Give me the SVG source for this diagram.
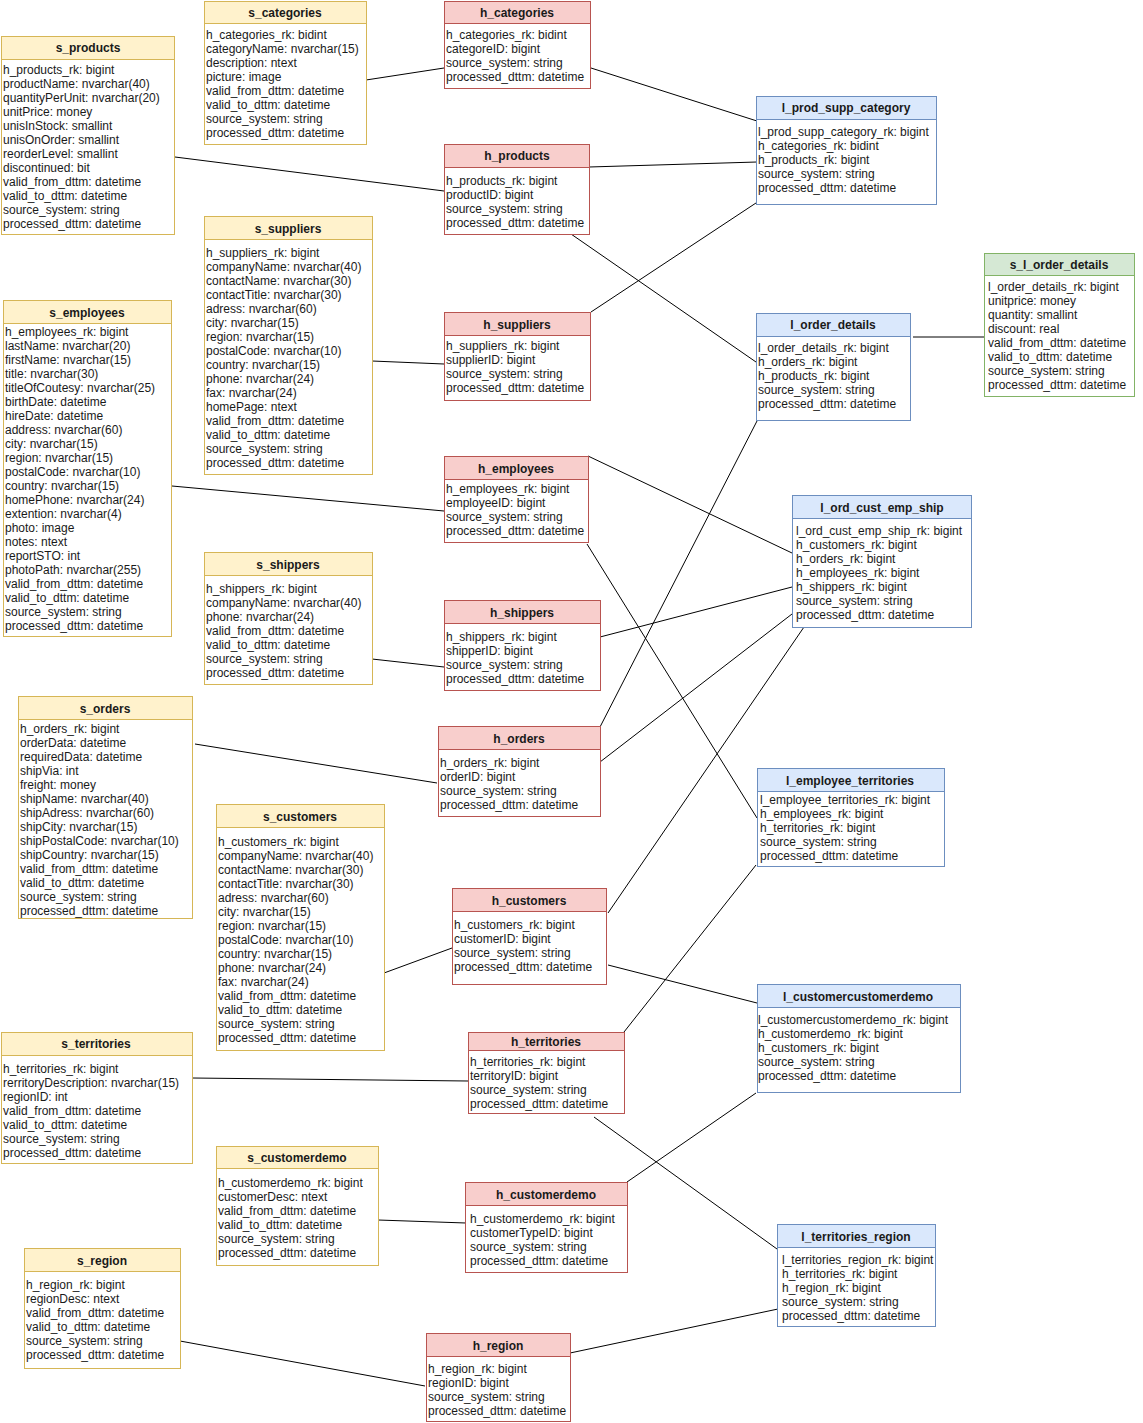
<svg xmlns="http://www.w3.org/2000/svg" width="1143" height="1423" viewBox="0 0 1143 1423">
<style>
text{font-family:"Liberation Sans",Arial,sans-serif;font-size:12px;fill:#1a1a1a}
.t{font-weight:bold;text-anchor:middle}
.b{fill:#ffffff;stroke-width:1}
.s .b,.s .h{stroke:#d6b656}.s .h{fill:#fff2cc}
.hb .b,.hb .h{stroke:#b85450}.hb .h{fill:#f8cecc}
.l .b,.l .h{stroke:#6c8ebf}.l .h{fill:#dae8fc}
.g .b,.g .h{stroke:#82b366}.g .h{fill:#d5e8d4}
.c line{stroke:#000;stroke-width:1}
</style>
<rect width="1143" height="1423" fill="#ffffff"/>
<g class="c" id="connectors">
<line x1="366" y1="80" x2="444" y2="68"/>
<line x1="591" y1="68" x2="757" y2="121"/>
<line x1="175" y1="157" x2="444" y2="191"/>
<line x1="589" y1="167" x2="757" y2="162"/>
<line x1="571" y1="234" x2="756" y2="362"/>
<line x1="591" y1="312" x2="759" y2="201"/>
<line x1="372" y1="361" x2="444" y2="364"/>
<line x1="913" y1="337" x2="986" y2="337"/>
<line x1="172" y1="486" x2="444" y2="511"/>
<line x1="588" y1="456" x2="792" y2="553"/>
<line x1="587" y1="544" x2="757" y2="818"/>
<line x1="372" y1="659" x2="444" y2="667"/>
<line x1="600" y1="637" x2="792" y2="587"/>
<line x1="600" y1="727" x2="757" y2="421"/>
<line x1="195" y1="744" x2="437" y2="783"/>
<line x1="600" y1="762" x2="792" y2="614"/>
<line x1="608" y1="913" x2="804" y2="627"/>
<line x1="384" y1="973" x2="452" y2="948"/>
<line x1="608" y1="965" x2="757" y2="1003"/>
<line x1="624" y1="1032" x2="756" y2="865"/>
<line x1="192" y1="1078" x2="468" y2="1081"/>
<line x1="594" y1="1117" x2="777" y2="1249"/>
<line x1="627" y1="1182" x2="756" y2="1093"/>
<line x1="378" y1="1220" x2="466" y2="1223"/>
<line x1="180" y1="1341" x2="425" y2="1386"/>
<line x1="570" y1="1353" x2="778" y2="1309"/>
</g>

<g id="s_products" class="s">
<rect class="b" x="1.5" y="36.5" width="173" height="198"/>
<rect class="h" x="1.5" y="36.5" width="173" height="23"/>
<text class="t" x="88" y="52">s_products</text>
<text x="3" y="74"><tspan x="3">h_products_rk: bigint</tspan><tspan x="3" dy="14">productName: nvarchar(40)</tspan><tspan x="3" dy="14">quantityPerUnit: nvarchar(20)</tspan><tspan x="3" dy="14">unitPrice: money</tspan><tspan x="3" dy="14">unisInStock: smallint</tspan><tspan x="3" dy="14">unisOnOrder: smallint</tspan><tspan x="3" dy="14">reorderLevel: smallint</tspan><tspan x="3" dy="14">discontinued: bit</tspan><tspan x="3" dy="14">valid_from_dttm: datetime</tspan><tspan x="3" dy="14">valid_to_dttm: datetime</tspan><tspan x="3" dy="14">source_system: string</tspan><tspan x="3" dy="14">processed_dttm: datetime</tspan></text>
</g>

<g id="s_categories" class="s">
<rect class="b" x="204.5" y="1.5" width="162" height="143"/>
<rect class="h" x="204.5" y="1.5" width="162" height="22"/>
<text class="t" x="285" y="17">s_categories</text>
<text x="206" y="39"><tspan x="206">h_categories_rk: bidint</tspan><tspan x="206" dy="14">categoryName: nvarchar(15)</tspan><tspan x="206" dy="14">description: ntext</tspan><tspan x="206" dy="14">picture: image</tspan><tspan x="206" dy="14">valid_from_dttm: datetime</tspan><tspan x="206" dy="14">valid_to_dttm: datetime</tspan><tspan x="206" dy="14">source_system: string</tspan><tspan x="206" dy="14">processed_dttm: datetime</tspan></text>
</g>

<g id="h_categories" class="hb">
<rect class="b" x="444.5" y="1.5" width="146" height="87"/>
<rect class="h" x="444.5" y="1.5" width="146" height="22"/>
<text class="t" x="517" y="17">h_categories</text>
<text x="446" y="39"><tspan x="446">h_categories_rk: bidint</tspan><tspan x="446" dy="14">categoreID: bigint</tspan><tspan x="446" dy="14">source_system: string</tspan><tspan x="446" dy="14">processed_dttm: datetime</tspan></text>
</g>

<g id="h_products" class="hb">
<rect class="b" x="444.5" y="144.5" width="145" height="90"/>
<rect class="h" x="444.5" y="144.5" width="145" height="23"/>
<text class="t" x="517" y="160">h_products</text>
<text x="446" y="185"><tspan x="446">h_products_rk: bigint</tspan><tspan x="446" dy="14">productID: bigint</tspan><tspan x="446" dy="14">source_system: string</tspan><tspan x="446" dy="14">processed_dttm: datetime</tspan></text>
</g>

<g id="l_prod_supp_category" class="l">
<rect class="b" x="756.5" y="96.5" width="180" height="108"/>
<rect class="h" x="756.5" y="96.5" width="180" height="23"/>
<text class="t" x="846" y="112">l_prod_supp_category</text>
<text x="758" y="136"><tspan x="758">l_prod_supp_category_rk: bigint</tspan><tspan x="758" dy="14">h_categories_rk: bidint</tspan><tspan x="758" dy="14">h_products_rk: bigint</tspan><tspan x="758" dy="14">source_system: string</tspan><tspan x="758" dy="14">processed_dttm: datetime</tspan></text>
</g>

<g id="s_l_order_details" class="g">
<rect class="b" x="984.5" y="253.5" width="150" height="143"/>
<rect class="h" x="984.5" y="253.5" width="150" height="22"/>
<text class="t" x="1059" y="269">s_l_order_details</text>
<text x="988" y="291"><tspan x="988">l_order_details_rk: bigint</tspan><tspan x="988" dy="14">unitprice: money</tspan><tspan x="988" dy="14">quantity: smallint</tspan><tspan x="988" dy="14">discount: real</tspan><tspan x="988" dy="14">valid_from_dttm: datetime</tspan><tspan x="988" dy="14">valid_to_dttm: datetime</tspan><tspan x="988" dy="14">source_system: string</tspan><tspan x="988" dy="14">processed_dttm: datetime</tspan></text>
</g>

<g id="l_order_details" class="l">
<rect class="b" x="756.5" y="313.5" width="154" height="107"/>
<rect class="h" x="756.5" y="313.5" width="154" height="23"/>
<text class="t" x="833" y="329">l_order_details</text>
<text x="758" y="352"><tspan x="758">l_order_details_rk: bigint</tspan><tspan x="758" dy="14">h_orders_rk: bigint</tspan><tspan x="758" dy="14">h_products_rk: bigint</tspan><tspan x="758" dy="14">source_system: string</tspan><tspan x="758" dy="14">processed_dttm: datetime</tspan></text>
</g>

<g id="s_employees" class="s">
<rect class="b" x="3.5" y="300.5" width="168" height="336"/>
<rect class="h" x="3.5" y="300.5" width="168" height="23"/>
<text class="t" x="87" y="317">s_employees</text>
<text x="5" y="336"><tspan x="5">h_employees_rk: bigint</tspan><tspan x="5" dy="14">lastName: nvarchar(20)</tspan><tspan x="5" dy="14">firstName: nvarchar(15)</tspan><tspan x="5" dy="14">title: nvarchar(30)</tspan><tspan x="5" dy="14">titleOfCoutesy: nvarchar(25)</tspan><tspan x="5" dy="14">birthDate: datetime</tspan><tspan x="5" dy="14">hireDate: datetime</tspan><tspan x="5" dy="14">address: nvarchar(60)</tspan><tspan x="5" dy="14">city: nvarchar(15)</tspan><tspan x="5" dy="14">region: nvarchar(15)</tspan><tspan x="5" dy="14">postalCode: nvarchar(10)</tspan><tspan x="5" dy="14">country: nvarchar(15)</tspan><tspan x="5" dy="14">homePhone: nvarchar(24)</tspan><tspan x="5" dy="14">extention: nvarchar(4)</tspan><tspan x="5" dy="14">photo: image</tspan><tspan x="5" dy="14">notes: ntext</tspan><tspan x="5" dy="14">reportSTO: int</tspan><tspan x="5" dy="14">photoPath: nvarchar(255)</tspan><tspan x="5" dy="14">valid_from_dttm: datetime</tspan><tspan x="5" dy="14">valid_to_dttm: datetime</tspan><tspan x="5" dy="14">source_system: string</tspan><tspan x="5" dy="14">processed_dttm: datetime</tspan></text>
</g>

<g id="s_suppliers" class="s">
<rect class="b" x="204.5" y="216.5" width="168" height="258"/>
<rect class="h" x="204.5" y="216.5" width="168" height="23"/>
<text class="t" x="288" y="233">s_suppliers</text>
<text x="206" y="257"><tspan x="206">h_suppliers_rk: bigint</tspan><tspan x="206" dy="14">companyName: nvarchar(40)</tspan><tspan x="206" dy="14">contactName: nvarchar(30)</tspan><tspan x="206" dy="14">contactTitle: nvarchar(30)</tspan><tspan x="206" dy="14">adress: nvarchar(60)</tspan><tspan x="206" dy="14">city: nvarchar(15)</tspan><tspan x="206" dy="14">region: nvarchar(15)</tspan><tspan x="206" dy="14">postalCode: nvarchar(10)</tspan><tspan x="206" dy="14">country: nvarchar(15)</tspan><tspan x="206" dy="14">phone: nvarchar(24)</tspan><tspan x="206" dy="14">fax: nvarchar(24)</tspan><tspan x="206" dy="14">homePage: ntext</tspan><tspan x="206" dy="14">valid_from_dttm: datetime</tspan><tspan x="206" dy="14">valid_to_dttm: datetime</tspan><tspan x="206" dy="14">source_system: string</tspan><tspan x="206" dy="14">processed_dttm: datetime</tspan></text>
</g>

<g id="h_suppliers" class="hb">
<rect class="b" x="444.5" y="312.5" width="146" height="88"/>
<rect class="h" x="444.5" y="312.5" width="146" height="23"/>
<text class="t" x="517" y="329">h_suppliers</text>
<text x="446" y="350"><tspan x="446">h_suppliers_rk: bigint</tspan><tspan x="446" dy="14">supplierID: bigint</tspan><tspan x="446" dy="14">source_system: string</tspan><tspan x="446" dy="14">processed_dttm: datetime</tspan></text>
</g>

<g id="h_employees" class="hb">
<rect class="b" x="444.5" y="456.5" width="144" height="86"/>
<rect class="h" x="444.5" y="456.5" width="144" height="23"/>
<text class="t" x="516" y="473">h_employees</text>
<text x="446" y="493"><tspan x="446">h_employees_rk: bigint</tspan><tspan x="446" dy="14">employeeID: bigint</tspan><tspan x="446" dy="14">source_system: string</tspan><tspan x="446" dy="14">processed_dttm: datetime</tspan></text>
</g>

<g id="l_ord_cust_emp_ship" class="l">
<rect class="b" x="792.5" y="495.5" width="179" height="132"/>
<rect class="h" x="792.5" y="495.5" width="179" height="23"/>
<text class="t" x="882" y="512">l_ord_cust_emp_ship</text>
<text x="796" y="535"><tspan x="796">l_ord_cust_emp_ship_rk: bigint</tspan><tspan x="796" dy="14">h_customers_rk: bigint</tspan><tspan x="796" dy="14">h_orders_rk: bigint</tspan><tspan x="796" dy="14">h_employees_rk: bigint</tspan><tspan x="796" dy="14">h_shippers_rk: bigint</tspan><tspan x="796" dy="14">source_system: string</tspan><tspan x="796" dy="14">processed_dttm: datetime</tspan></text>
</g>

<g id="s_shippers" class="s">
<rect class="b" x="204.5" y="552.5" width="168" height="132"/>
<rect class="h" x="204.5" y="552.5" width="168" height="23"/>
<text class="t" x="288" y="569">s_shippers</text>
<text x="206" y="593"><tspan x="206">h_shippers_rk: bigint</tspan><tspan x="206" dy="14">companyName: nvarchar(40)</tspan><tspan x="206" dy="14">phone: nvarchar(24)</tspan><tspan x="206" dy="14">valid_from_dttm: datetime</tspan><tspan x="206" dy="14">valid_to_dttm: datetime</tspan><tspan x="206" dy="14">source_system: string</tspan><tspan x="206" dy="14">processed_dttm: datetime</tspan></text>
</g>

<g id="h_shippers" class="hb">
<rect class="b" x="444.5" y="600.5" width="156" height="90"/>
<rect class="h" x="444.5" y="600.5" width="156" height="23"/>
<text class="t" x="522" y="617">h_shippers</text>
<text x="446" y="641"><tspan x="446">h_shippers_rk: bigint</tspan><tspan x="446" dy="14">shipperID: bigint</tspan><tspan x="446" dy="14">source_system: string</tspan><tspan x="446" dy="14">processed_dttm: datetime</tspan></text>
</g>

<g id="s_orders" class="s">
<rect class="b" x="18.5" y="696.5" width="174" height="222"/>
<rect class="h" x="18.5" y="696.5" width="174" height="23"/>
<text class="t" x="105" y="713">s_orders</text>
<text x="20" y="733"><tspan x="20">h_orders_rk: bigint</tspan><tspan x="20" dy="14">orderData: datetime</tspan><tspan x="20" dy="14">requiredData: datetime</tspan><tspan x="20" dy="14">shipVia: int</tspan><tspan x="20" dy="14">freight: money</tspan><tspan x="20" dy="14">shipName: nvarchar(40)</tspan><tspan x="20" dy="14">shipAdress: nvarchar(60)</tspan><tspan x="20" dy="14">shipCity: nvarchar(15)</tspan><tspan x="20" dy="14">shipPostalCode: nvarchar(10)</tspan><tspan x="20" dy="14">shipCountry: nvarchar(15)</tspan><tspan x="20" dy="14">valid_from_dttm: datetime</tspan><tspan x="20" dy="14">valid_to_dttm: datetime</tspan><tspan x="20" dy="14">source_system: string</tspan><tspan x="20" dy="14">processed_dttm: datetime</tspan></text>
</g>

<g id="h_orders" class="hb">
<rect class="b" x="438.5" y="726.5" width="162" height="90"/>
<rect class="h" x="438.5" y="726.5" width="162" height="23"/>
<text class="t" x="519" y="743">h_orders</text>
<text x="440" y="767"><tspan x="440">h_orders_rk: bigint</tspan><tspan x="440" dy="14">orderID: bigint</tspan><tspan x="440" dy="14">source_system: string</tspan><tspan x="440" dy="14">processed_dttm: datetime</tspan></text>
</g>

<g id="l_employee_territories" class="l">
<rect class="b" x="757.5" y="768.5" width="187" height="98"/>
<rect class="h" x="757.5" y="768.5" width="187" height="23"/>
<text class="t" x="850" y="785">l_employee_territories</text>
<text x="760" y="804"><tspan x="760">l_employee_territories_rk: bigint</tspan><tspan x="760" dy="14">h_employees_rk: bigint</tspan><tspan x="760" dy="14">h_territories_rk: bigint</tspan><tspan x="760" dy="14">source_system: string</tspan><tspan x="760" dy="14">processed_dttm: datetime</tspan></text>
</g>

<g id="s_customers" class="s">
<rect class="b" x="216.5" y="804.5" width="168" height="246"/>
<rect class="h" x="216.5" y="804.5" width="168" height="23"/>
<text class="t" x="300" y="821">s_customers</text>
<text x="218" y="846"><tspan x="218">h_customers_rk: bigint</tspan><tspan x="218" dy="14">companyName: nvarchar(40)</tspan><tspan x="218" dy="14">contactName: nvarchar(30)</tspan><tspan x="218" dy="14">contactTitle: nvarchar(30)</tspan><tspan x="218" dy="14">adress: nvarchar(60)</tspan><tspan x="218" dy="14">city: nvarchar(15)</tspan><tspan x="218" dy="14">region: nvarchar(15)</tspan><tspan x="218" dy="14">postalCode: nvarchar(10)</tspan><tspan x="218" dy="14">country: nvarchar(15)</tspan><tspan x="218" dy="14">phone: nvarchar(24)</tspan><tspan x="218" dy="14">fax: nvarchar(24)</tspan><tspan x="218" dy="14">valid_from_dttm: datetime</tspan><tspan x="218" dy="14">valid_to_dttm: datetime</tspan><tspan x="218" dy="14">source_system: string</tspan><tspan x="218" dy="14">processed_dttm: datetime</tspan></text>
</g>

<g id="h_customers" class="hb">
<rect class="b" x="452.5" y="888.5" width="154" height="96"/>
<rect class="h" x="452.5" y="888.5" width="154" height="23"/>
<text class="t" x="529" y="905">h_customers</text>
<text x="454" y="929"><tspan x="454">h_customers_rk: bigint</tspan><tspan x="454" dy="14">customerID: bigint</tspan><tspan x="454" dy="14">source_system: string</tspan><tspan x="454" dy="14">processed_dttm: datetime</tspan></text>
</g>

<g id="l_customercustomerdemo" class="l">
<rect class="b" x="757.5" y="984.5" width="203" height="108"/>
<rect class="h" x="757.5" y="984.5" width="203" height="23"/>
<text class="t" x="858" y="1001">l_customercustomerdemo</text>
<text x="758" y="1024"><tspan x="758">l_customercustomerdemo_rk: bigint</tspan><tspan x="758" dy="14">h_customerdemo_rk: bigint</tspan><tspan x="758" dy="14">h_customers_rk: bigint</tspan><tspan x="758" dy="14">source_system: string</tspan><tspan x="758" dy="14">processed_dttm: datetime</tspan></text>
</g>

<g id="s_territories" class="s">
<rect class="b" x="1.5" y="1032.5" width="191" height="131"/>
<rect class="h" x="1.5" y="1032.5" width="191" height="23"/>
<text class="t" x="96" y="1048">s_territories</text>
<text x="3" y="1073"><tspan x="3">h_territories_rk: bigint</tspan><tspan x="3" dy="14">rerritoryDescription: nvarchar(15)</tspan><tspan x="3" dy="14">regionID: int</tspan><tspan x="3" dy="14">valid_from_dttm: datetime</tspan><tspan x="3" dy="14">valid_to_dttm: datetime</tspan><tspan x="3" dy="14">source_system: string</tspan><tspan x="3" dy="14">processed_dttm: datetime</tspan></text>
</g>

<g id="h_territories" class="hb">
<rect class="b" x="468.5" y="1032.5" width="156" height="81"/>
<rect class="h" x="468.5" y="1032.5" width="156" height="18"/>
<text class="t" x="546" y="1046">h_territories</text>
<text x="470" y="1066"><tspan x="470">h_territories_rk: bigint</tspan><tspan x="470" dy="14">territoryID: bigint</tspan><tspan x="470" dy="14">source_system: string</tspan><tspan x="470" dy="14">processed_dttm: datetime</tspan></text>
</g>

<g id="s_customerdemo" class="s">
<rect class="b" x="216.5" y="1146.5" width="162" height="119"/>
<rect class="h" x="216.5" y="1146.5" width="162" height="22"/>
<text class="t" x="297" y="1162">s_customerdemo</text>
<text x="218" y="1187"><tspan x="218">h_customerdemo_rk: bigint</tspan><tspan x="218" dy="14">customerDesc: ntext</tspan><tspan x="218" dy="14">valid_from_dttm: datetime</tspan><tspan x="218" dy="14">valid_to_dttm: datetime</tspan><tspan x="218" dy="14">source_system: string</tspan><tspan x="218" dy="14">processed_dttm: datetime</tspan></text>
</g>

<g id="h_customerdemo" class="hb">
<rect class="b" x="465.5" y="1182.5" width="162" height="90"/>
<rect class="h" x="465.5" y="1182.5" width="162" height="23"/>
<text class="t" x="546" y="1199">h_customerdemo</text>
<text x="470" y="1223"><tspan x="470">h_customerdemo_rk: bigint</tspan><tspan x="470" dy="14">customerTypeID: bigint</tspan><tspan x="470" dy="14">source_system: string</tspan><tspan x="470" dy="14">processed_dttm: datetime</tspan></text>
</g>

<g id="l_territories_region" class="l">
<rect class="b" x="777.5" y="1224.5" width="158" height="102"/>
<rect class="h" x="777.5" y="1224.5" width="158" height="23"/>
<text class="t" x="856" y="1241">l_territories_region</text>
<text x="782" y="1264"><tspan x="782">l_territories_region_rk: bigint</tspan><tspan x="782" dy="14">h_territories_rk: bigint</tspan><tspan x="782" dy="14">h_region_rk: bigint</tspan><tspan x="782" dy="14">source_system: string</tspan><tspan x="782" dy="14">processed_dttm: datetime</tspan></text>
</g>

<g id="s_region" class="s">
<rect class="b" x="24.5" y="1248.5" width="156" height="120"/>
<rect class="h" x="24.5" y="1248.5" width="156" height="23"/>
<text class="t" x="102" y="1265">s_region</text>
<text x="26" y="1289"><tspan x="26">h_region_rk: bigint</tspan><tspan x="26" dy="14">regionDesc: ntext</tspan><tspan x="26" dy="14">valid_from_dttm: datetime</tspan><tspan x="26" dy="14">valid_to_dttm: datetime</tspan><tspan x="26" dy="14">source_system: string</tspan><tspan x="26" dy="14">processed_dttm: datetime</tspan></text>
</g>

<g id="h_region" class="hb">
<rect class="b" x="426.5" y="1333.5" width="144" height="88"/>
<rect class="h" x="426.5" y="1333.5" width="144" height="23"/>
<text class="t" x="498" y="1350">h_region</text>
<text x="428" y="1373"><tspan x="428">h_region_rk: bigint</tspan><tspan x="428" dy="14">regionID: bigint</tspan><tspan x="428" dy="14">source_system: string</tspan><tspan x="428" dy="14">processed_dttm: datetime</tspan></text>
</g>
</svg>
